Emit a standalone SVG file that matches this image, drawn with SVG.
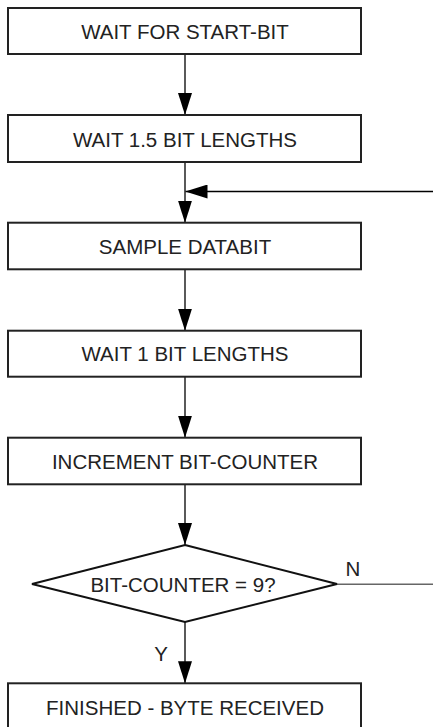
<svg xmlns="http://www.w3.org/2000/svg" width="433" height="727" viewBox="0 0 433 727">
<defs>
<marker id="ah" viewBox="0 0 22 14" refX="22" refY="7" markerWidth="22" markerHeight="14" markerUnits="userSpaceOnUse" orient="auto">
<path d="M0,0 L22,7 L0,14 Z" fill="#000"/>
</marker>
</defs>
<style>
.box{fill:#fff;stroke:#222;stroke-width:2}
.t{font-family:"Liberation Sans",Arial,sans-serif;font-size:20.5px;fill:#222;text-anchor:middle}
.c{stroke:#000;stroke-width:1.3;fill:none}
.n{stroke:#666;stroke-width:1.5;fill:none}
</style>
<rect width="433" height="727" fill="#fff"/>
<g id="connectors">
<line class="c" x1="185" y1="54" x2="185" y2="115" marker-end="url(#ah)"/>
<line class="c" x1="185" y1="162" x2="185" y2="222.7" marker-end="url(#ah)"/>
<line class="c" x1="433" y1="191.5" x2="185.5" y2="191.5" marker-end="url(#ah)"/>
<line class="c" x1="185" y1="269.3" x2="185" y2="330.7" marker-end="url(#ah)"/>
<line class="c" x1="185" y1="376.7" x2="185" y2="437.7" marker-end="url(#ah)"/>
<line class="c" x1="185" y1="484.3" x2="185" y2="545" marker-end="url(#ah)"/>
<line class="c" x1="185" y1="622" x2="185" y2="683.3" marker-end="url(#ah)"/>
<line class="n" x1="337" y1="584.3" x2="433" y2="584.3"/>
<text class="t" x="353" y="575.7">N</text>
<text class="t" x="161" y="660.5">Y</text>
</g>
<g id="n1"><rect class="box" x="8" y="8" width="353" height="46"/><text class="t" x="185" y="39">WAIT FOR START-BIT</text></g>
<g id="n2"><rect class="box" x="8" y="115" width="353" height="47"/><text class="t" x="185" y="146.5">WAIT 1.5 BIT LENGTHS</text></g>
<g id="n3"><rect class="box" x="8" y="222.7" width="353" height="46.6"/><text class="t" x="185" y="254">SAMPLE DATABIT</text></g>
<g id="n4"><rect class="box" x="8" y="330.7" width="353" height="46"/><text class="t" x="185" y="360.5">WAIT 1 BIT LENGTHS</text></g>
<g id="n5"><rect class="box" x="8" y="437.7" width="353" height="46.6"/><text class="t" x="185" y="469">INCREMENT BIT-COUNTER</text></g>
<g id="n6"><polygon points="185,545 337,584 185,622 32,584" fill="#fff" stroke="#111" stroke-width="2"/><text class="t" x="183" y="591.5">BIT-COUNTER = 9?</text></g>
<g id="n7"><rect class="box" x="8" y="683.3" width="353" height="60"/><text class="t" x="185" y="715">FINISHED - BYTE RECEIVED</text></g>
</svg>
